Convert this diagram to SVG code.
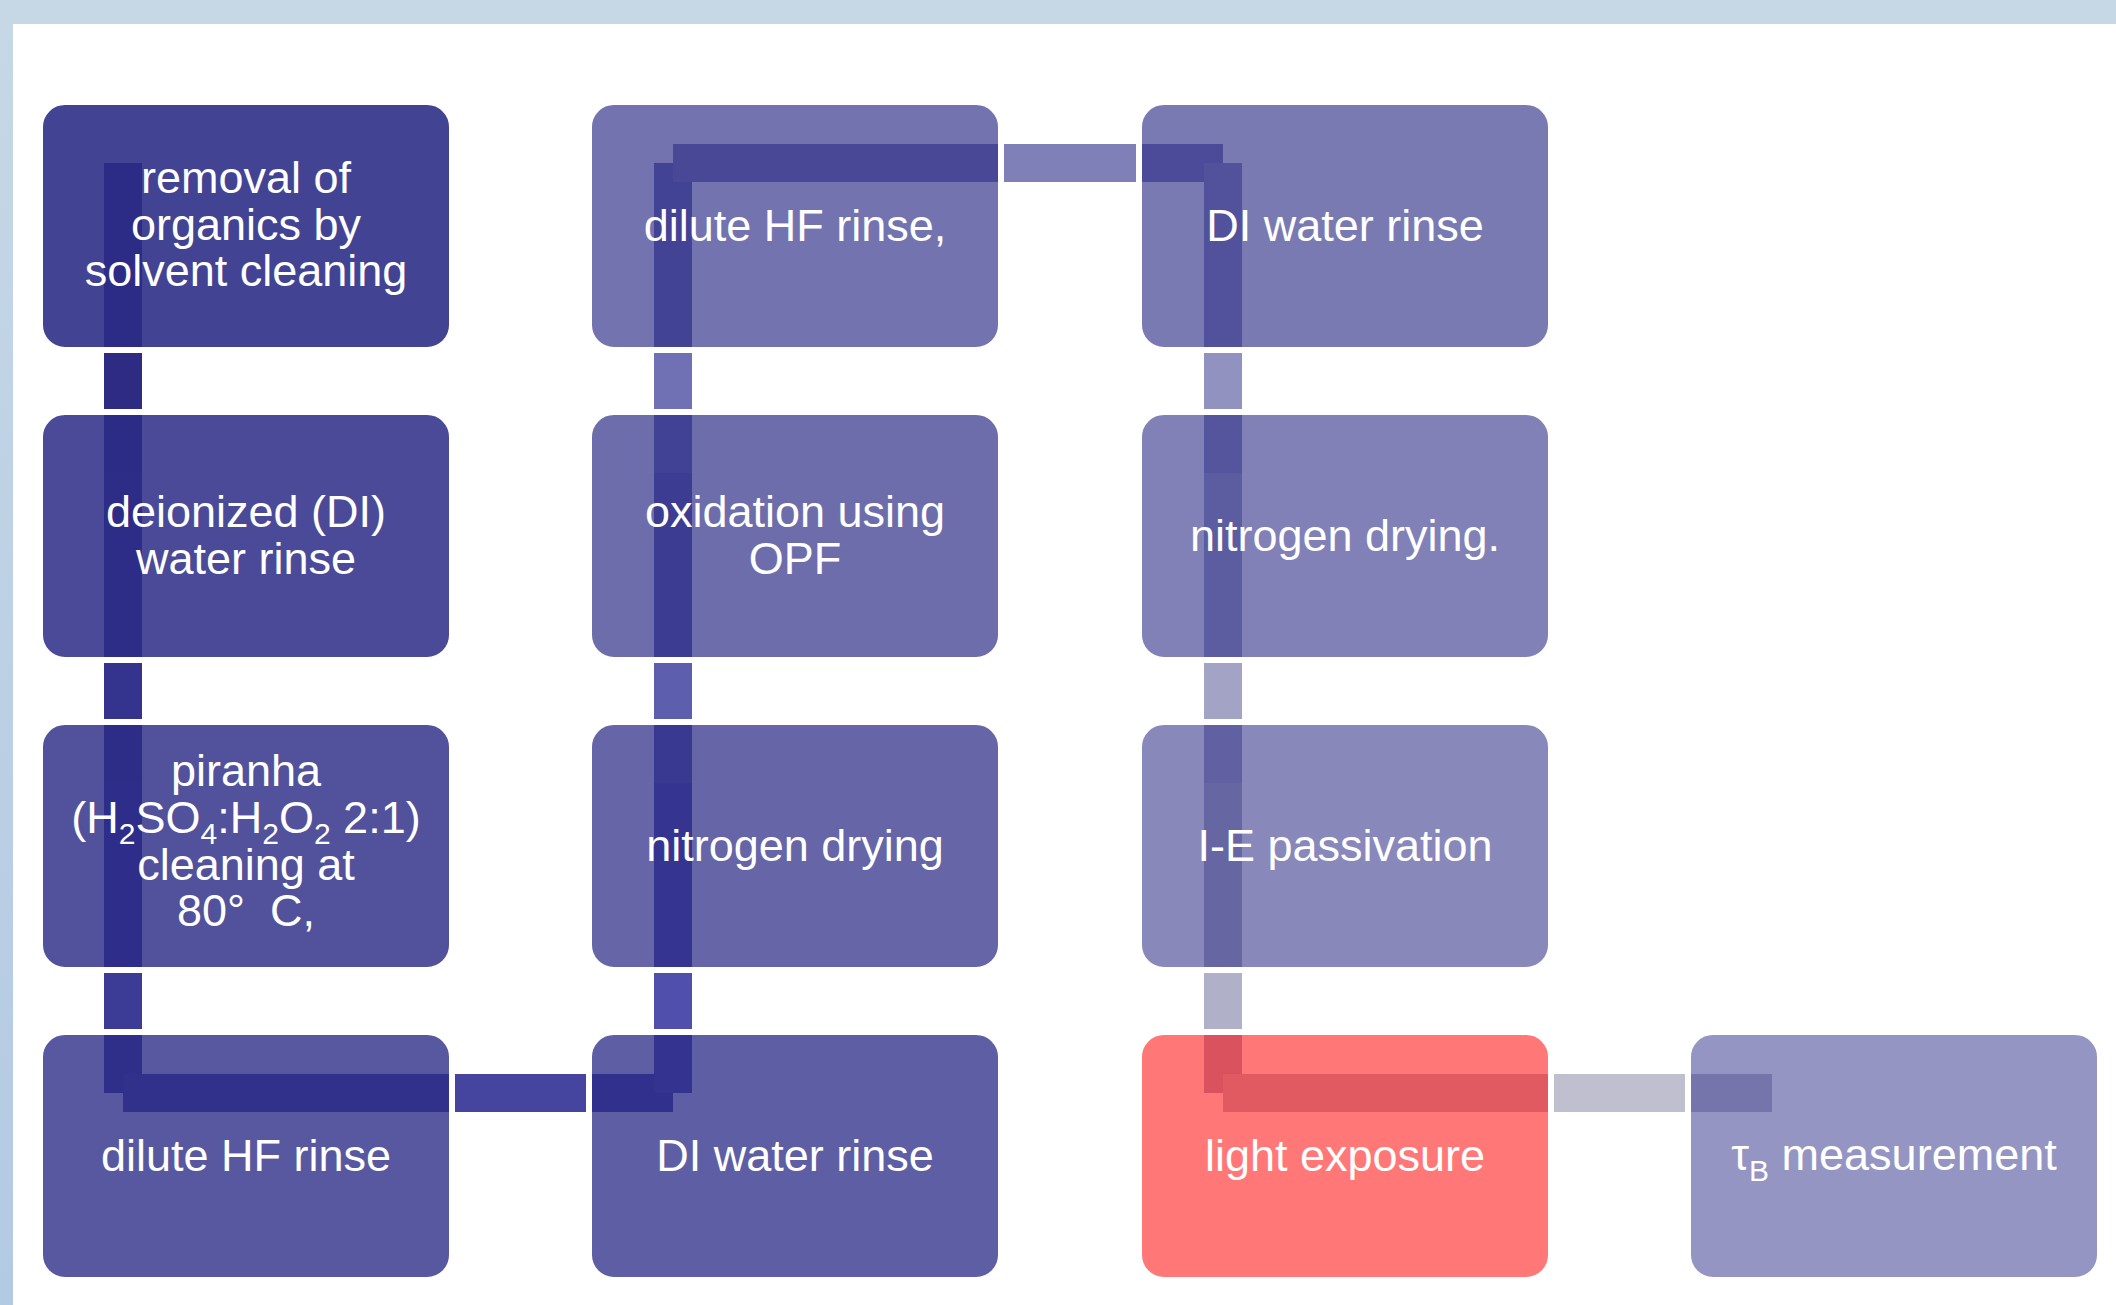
<svg xmlns="http://www.w3.org/2000/svg" width="2116" height="1305" viewBox="0 0 2116 1305">
<defs>
<linearGradient id="leftBand" x1="0" y1="0" x2="0" y2="1">
<stop offset="0" stop-color="#c6d7e6"/>
<stop offset="1" stop-color="#b3cae3"/>
</linearGradient>
</defs>
<style>
.node rect{stroke:#ffffff;stroke-width:6}
.blue rect{fill:#2c2c87}
.red rect{fill:#ff0000}
.lbl{font-family:"Liberation Sans",Arial,sans-serif;font-size:45px;fill:#ffffff;text-anchor:middle}
.sub{font-size:30px}
.conn line{stroke-width:38;stroke-linecap:butt;fill:none}
</style>
<rect x="0" y="0" width="2116" height="1305" fill="#ffffff"/>
<rect x="0" y="0" width="2116" height="24" fill="#c6d7e6"/>
<rect x="0" y="24" width="13" height="1281" fill="url(#leftBand)"/>

<g id="connectors" class="conn">
<line x1="123" y1="163" x2="123" y2="473" stroke="#2e2b83"/>
<line x1="123" y1="473" x2="123" y2="783" stroke="#34338e"/>
<line x1="123" y1="783" x2="123" y2="1093" stroke="#3c3c97"/>
<line x1="123" y1="1093" x2="673" y2="1093" stroke="#4545a0"/>
<line x1="673" y1="1093" x2="673" y2="783" stroke="#5050ac"/>
<line x1="673" y1="783" x2="673" y2="473" stroke="#5e5eae"/>
<line x1="673" y1="473" x2="673" y2="163" stroke="#7070b4"/>
<line x1="673" y1="163" x2="1223" y2="163" stroke="#8080b8"/>
<line x1="1223" y1="163" x2="1223" y2="473" stroke="#9292c0"/>
<line x1="1223" y1="473" x2="1223" y2="783" stroke="#a3a3c6"/>
<line x1="1223" y1="783" x2="1223" y2="1093" stroke="#b0b0c9"/>
<line x1="1223" y1="1093" x2="1772" y2="1093" stroke="#bfbfcf"/>
</g>

<g id="node1" class="node blue">
<rect x="40" y="102" width="412" height="248" rx="25" fill-opacity="0.89"/>
<text class="lbl"><tspan x="246" y="193">removal of</tspan><tspan x="246" y="239.5">organics by</tspan><tspan x="246" y="286">solvent cleaning</tspan></text>
</g>
<g id="node2" class="node blue">
<rect x="40" y="412" width="412" height="248" rx="25" fill-opacity="0.8575"/>
<text class="lbl"><tspan x="246" y="527">deionized (DI)</tspan><tspan x="246" y="573.5">water rinse</tspan></text>
</g>
<g id="node3" class="node blue">
<rect x="40" y="722" width="412" height="248" rx="25" fill-opacity="0.825"/>
<text class="lbl"><tspan x="246" y="786">piranha</tspan><tspan x="246" y="833">(H<tspan class="sub" dy="11">2</tspan><tspan dy="-11">SO</tspan><tspan class="sub" dy="11">4</tspan><tspan dy="-11">:H</tspan><tspan class="sub" dy="11">2</tspan><tspan dy="-11">O</tspan><tspan class="sub" dy="11">2</tspan><tspan dy="-11"> 2:1)</tspan></tspan><tspan x="246" y="879.5">cleaning at</tspan><tspan x="246" y="926">80°&#160; C,</tspan></text>
</g>
<g id="node4" class="node blue">
<rect x="40" y="1032" width="412" height="248" rx="25" fill-opacity="0.7925"/>
<text class="lbl" x="246" y="1171">dilute HF rinse</text>
</g>
<g id="node5" class="node blue">
<rect x="589" y="1032" width="412" height="248" rx="25" fill-opacity="0.76"/>
<text class="lbl" x="795" y="1171">DI water rinse</text>
</g>
<g id="node6" class="node blue">
<rect x="589" y="722" width="412" height="248" rx="25" fill-opacity="0.7275"/>
<text class="lbl" x="795" y="861">nitrogen drying</text>
</g>
<g id="node7" class="node blue">
<rect x="589" y="412" width="412" height="248" rx="25" fill-opacity="0.695"/>
<text class="lbl"><tspan x="795" y="527">oxidation using</tspan><tspan x="795" y="573.5">OPF</tspan></text>
</g>
<g id="node8" class="node blue">
<rect x="589" y="102" width="412" height="248" rx="25" fill-opacity="0.6625"/>
<text class="lbl" x="795" y="241">dilute HF rinse,</text>
</g>
<g id="node9" class="node blue">
<rect x="1139" y="102" width="412" height="248" rx="25" fill-opacity="0.63"/>
<text class="lbl" x="1345" y="241">DI water rinse</text>
</g>
<g id="node10" class="node blue">
<rect x="1139" y="412" width="412" height="248" rx="25" fill-opacity="0.5975"/>
<text class="lbl" x="1345" y="551">nitrogen drying.</text>
</g>
<g id="node11" class="node blue">
<rect x="1139" y="722" width="412" height="248" rx="25" fill-opacity="0.565"/>
<text class="lbl" x="1345" y="861">I-E passivation</text>
</g>
<g id="node12" class="node red">
<rect x="1139" y="1032" width="412" height="248" rx="25" fill-opacity="0.535"/>
<text class="lbl" x="1345" y="1171">light exposure</text>
</g>
<g id="node13" class="node blue">
<rect x="1688" y="1032" width="412" height="248" rx="25" fill-opacity="0.50"/>
<text class="lbl" x="1894" y="1170">τ<tspan class="sub" dy="11">B</tspan><tspan dy="-11"> measurement</tspan></text>
</g>
</svg>
